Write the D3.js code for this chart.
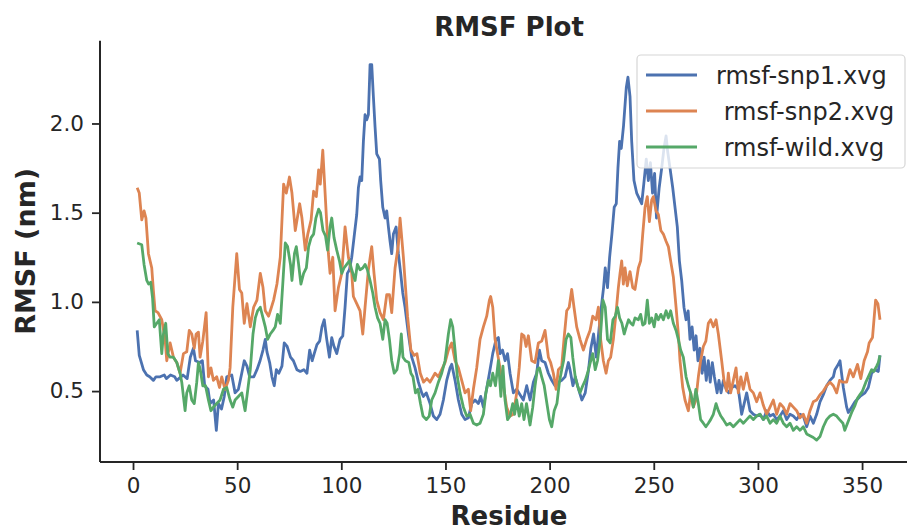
<!DOCTYPE html>
<html>
<head>
<meta charset="utf-8">
<script src="https://cdn.jsdelivr.net/npm/d3@7"></script>
<style>
  body { margin: 0; background: #fff; }
  text { font-family: "DejaVu Sans", sans-serif; fill: #262626; }
</style>
</head>
<body>
<div id="chart"></div>
<script>
// residue / rmsf (nm) pairs
const snp1 = [
  [2,0.84],[3,0.70],[5,0.62],[6.6,0.59],[8,0.58],[9.8,0.56],[11,0.58],[13,0.58],[15,0.59],[16,0.57],
  [18,0.59],[20,0.58],[21,0.56],[23,0.58],[24,0.59],[26,0.57],[27.5,0.69],[29,0.74],[30,0.67],[32,0.66],
  [33.3,0.67],[34.4,0.53],[36,0.51],[37,0.43],[38.7,0.45],[40,0.28],[41,0.43],[42.5,0.40],[43.8,0.47],[45,0.58],
  [47.4,0.59],[49,0.49],[50.6,0.51],[52.2,0.60],[53.4,0.67],[54.7,0.64],[56,0.58],[58,0.58],[59.5,0.62],[61,0.67],
  [62.4,0.73],[63.5,0.79],[64.3,0.72],[65.6,0.66],[66.7,0.58],[67.8,0.53],[68.8,0.62],[70,0.60],[71.5,0.64],[72.6,0.77],
  [74,0.75],[75.6,0.69],[77,0.67],[78.7,0.62],[80.3,0.61],[82,0.62],[83.5,0.60],[84.8,0.73],[86,0.67],[87,0.71],
  [88.3,0.76],[89.6,0.78],[90.7,0.86],[91.8,0.90],[93,0.79],[94.3,0.69],[95.4,0.80],[96.5,0.75],[97.8,0.71],[99.4,0.79],
  [100.7,0.81],[101.8,0.97],[102.9,1.16],[103.9,1.18],[105,1.25],[106.1,1.36],[107.4,1.49],[108.2,1.64],[109,1.70],[109.8,1.68],
  [110.6,1.90],[111.4,2.05],[112.2,2.02],[113,2.05],[113.8,2.33],[114.6,2.33],[115.4,2.15],[116.2,1.98],[117,1.83],[118.3,1.80],
  [118.9,1.68],[119.9,1.53],[121,1.47],[121.8,1.51],[122.6,1.42],[123.4,1.34],[124.2,1.27],[125,1.38],[126.3,1.42],[127.4,1.27],
  [128.5,1.16],[129.5,1.05],[130.6,0.97],[132.2,0.82],[133.8,0.69],[135.4,0.63],[137,0.55],[138.6,0.49],[139.4,0.47],[140.8,0.49],
  [142.6,0.43],[144.2,0.36],[145.8,0.34],[147.4,0.37],[149,0.45],[150.6,0.56],[152.2,0.63],[153,0.65],[154.6,0.56],[156.2,0.45],
  [157.8,0.37],[159.4,0.34],[161,0.35],[162.6,0.43],[164.2,0.45],[165.8,0.43],[166.9,0.47],[168.2,0.41],[169.4,0.49],[171.1,0.60],
  [172.7,0.71],[174.3,0.79],[175.4,0.80],[176.2,0.71],[177.4,0.73],[178.6,0.67],[179.8,0.71],[181,0.60],[182.6,0.49],[184.2,0.51],
  [185.8,0.48],[187.4,0.45],[189,0.53],[190.6,0.45],[192.2,0.55],[193.8,0.60],[195.1,0.73],[196.2,0.67],[197.8,0.66],[199.4,0.60],
  [201,0.56],[202.6,0.53],[204.2,0.55],[205.8,0.56],[207.4,0.58],[209,0.66],[209.8,0.62],[211.2,0.53],[212.3,0.58],[213.9,0.51],
  [215.5,0.45],[217.1,0.49],[218.7,0.62],[219.8,0.74],[221.1,0.82],[222.4,0.69],[223.5,0.82],[224.6,0.95],[225.9,1.08],[226.7,1.19],
  [227.8,1.08],[228.8,1.25],[229.9,1.38],[231,1.53],[232,1.55],[232.8,1.75],[233.6,1.90],[234.4,1.86],[235.5,1.99],[236.8,2.20],
  [237.6,2.26],[238.6,2.15],[239.4,1.90],[240.5,1.68],[241.8,1.61],[243.4,1.57],[244.2,1.55],[245.2,1.66],[246.4,1.80],[247.4,1.68],
  [248.4,1.78],[249.4,1.61],[250.4,1.72],[251.3,1.47],[252.6,1.64],[253.8,1.75],[254.9,1.86],[255.9,1.93],[256.7,1.84],[257.8,1.75],
  [259.1,1.64],[260.2,1.53],[261.3,1.42],[262.3,1.23],[263.4,1.12],[264.5,0.97],[265.5,0.90],[266.5,0.95],[267.4,0.79],[268.4,0.86],
  [269.4,0.73],[270.3,0.81],[271.2,0.67],[272.2,0.74],[273.2,0.60],[274.2,0.69],[275.2,0.56],[276.2,0.67],[277.1,0.55],[278.1,0.66],
  [279.1,0.58],[280.4,0.49],[281.3,0.56],[282.3,0.49],[283.4,0.56],[284.8,0.51],[286,0.49],[287.5,0.52],[289,0.53],[290.6,0.51],
  [292.2,0.37],[293.4,0.43],[294.6,0.49],[296.2,0.39],[297.8,0.37],[299.4,0.36],[301,0.37],[302.6,0.34],[304.2,0.39],[305.8,0.36],
  [307.4,0.37],[309,0.34],[310.6,0.36],[312.2,0.39],[313.8,0.34],[315.4,0.37],[317,0.36],[318.6,0.34],[320.2,0.37],[321.8,0.36],
  [323.4,0.30],[325,0.36],[326.6,0.32],[328.2,0.37],[329.8,0.44],[331.4,0.48],[333,0.53],[334.6,0.56],[336.2,0.58],[337,0.62],
  [338.6,0.65],[339.4,0.67],[341,0.52],[342.6,0.41],[343.4,0.38],[345,0.41],[346.6,0.44],[349,0.47],[351.4,0.49],[353,0.52],
  [354.6,0.60],[356.2,0.62],[357.8,0.61],[358.6,0.70]
];

const snp2 = [
  [2,1.64],[3,1.61],[4.2,1.46],[5.3,1.51],[6.2,1.47],[7.4,1.27],[9,1.19],[9.8,1.06],[10.6,0.95],[12,0.94],
  [13.8,0.90],[15.4,0.79],[16.2,0.67],[17.8,0.77],[19.4,0.69],[21,0.66],[22.6,0.60],[24.2,0.71],[25.8,0.72],[27,0.84],
  [28.2,0.82],[29.4,0.74],[30.3,0.82],[31.4,0.83],[32.2,0.69],[33.5,0.78],[35.1,0.94],[36.2,0.58],[37.4,0.63],[38.6,0.56],
  [40.2,0.58],[41.5,0.52],[42.6,0.58],[44.2,0.51],[45.8,0.56],[46.6,0.63],[47.9,0.97],[49.8,1.27],[51.1,1.07],[52.2,1.05],
  [53.4,0.88],[54.7,0.99],[56.3,0.86],[57.9,0.97],[59.5,1.01],[61.1,1.16],[62.4,1.08],[63.5,0.95],[65.1,0.92],[66.2,0.96],
  [67.5,1.01],[69.1,1.10],[70.7,1.25],[72.3,1.66],[73.6,1.61],[75.1,1.70],[76.3,1.61],[77.9,1.40],[80,1.55],[81.1,1.47],
  [82.7,1.29],[83.9,1.38],[85.5,1.46],[86.7,1.62],[88,1.59],[89.1,1.74],[89.9,1.66],[91.1,1.85],[92.4,1.57],[93.8,1.27],
  [94.6,1.16],[95.9,1.25],[97,0.95],[98.6,1.08],[100.2,1.16],[101.8,1.42],[103.4,1.25],[105,1.16],[105.8,1.03],[107.4,0.99],
  [109,0.95],[110.3,0.82],[111.4,0.97],[113,1.18],[114.6,1.31],[115.7,1.16],[117,1.01],[118.6,0.94],[120.2,0.90],[121.8,1.04],
  [123.1,1.04],[124.2,0.94],[125.8,1.19],[127.4,1.32],[128.2,1.47],[129.8,1.25],[131.8,0.92],[133.4,0.73],[135,0.70],[136.3,0.71],
  [137.9,0.60],[139.5,0.55],[141.1,0.57],[142.6,0.55],[145,0.60],[146.6,0.58],[148.2,0.62],[149.8,0.66],[151.4,0.73],[153,0.77],
  [154.6,0.67],[156.2,0.63],[157.8,0.56],[159.4,0.49],[161,0.51],[162.1,0.39],[163.4,0.51],[165,0.63],[166.6,0.79],[168.2,0.86],
  [169.8,0.92],[171.1,1.01],[171.7,1.03],[172.7,0.97],[173.8,0.79],[175,0.71],[176.2,0.63],[177.8,0.53],[179.4,0.41],[181,0.36],
  [182.6,0.37],[184.2,0.49],[185.4,0.63],[186.6,0.82],[187.7,0.81],[188.7,0.75],[189.8,0.81],[191.4,0.67],[193,0.66],[194.6,0.77],
  [196.2,0.78],[197.8,0.84],[199.4,0.69],[200.5,0.66],[201.8,0.60],[203.1,0.51],[204.2,0.62],[205.8,0.64],[206.9,0.79],[208.2,0.95],
  [209.4,0.97],[210.6,1.07],[211.7,0.97],[213,0.86],[214.6,0.79],[216.2,0.73],[217.8,0.79],[219.4,0.84],[220.7,0.92],[222.3,0.90],
  [223.4,0.97],[224.5,0.79],[225.8,0.67],[227.1,0.60],[228.2,0.67],[229.3,0.69],[230.6,0.79],[231.9,0.94],[233,1.08],[233.8,1.16],
  [234.6,1.23],[235.4,1.10],[236.2,1.19],[237.3,1.09],[238.6,1.17],[239.9,1.08],[241,1.07],[242.6,1.19],[243.7,1.23],[244.7,1.38],
  [245.8,1.53],[246.9,1.59],[247.9,1.45],[249,1.57],[249.8,1.59],[251.1,1.51],[252.2,1.49],[253.4,1.40],[254.6,1.38],[255.9,1.34],
  [257,1.31],[258.1,1.23],[259.4,1.14],[260.7,0.97],[261.8,0.82],[262.6,0.67],[263.9,0.52],[265,0.45],[266.6,0.39],[267.7,0.49],
  [269,0.41],[270.2,0.45],[271.4,0.58],[272.5,0.67],[273.8,0.75],[275,0.78],[276.2,0.88],[277.3,0.90],[278.6,0.86],[279.9,0.90],
  [281,0.82],[282.6,0.67],[283.7,0.56],[285,0.50],[285.8,0.60],[286.9,0.49],[288.2,0.56],[289.5,0.63],[290.6,0.49],[291.8,0.58],
  [293,0.51],[294.6,0.60],[296.2,0.51],[297.8,0.49],[299.4,0.44],[301,0.49],[302.6,0.42],[304.2,0.37],[305.8,0.41],[307.4,0.45],
  [309,0.37],[310.6,0.43],[312.2,0.41],[313.8,0.37],[315.4,0.43],[317,0.41],[318.6,0.39],[320.2,0.35],[321.8,0.37],[323.4,0.32],
  [325,0.39],[326.6,0.44],[328.2,0.45],[329.8,0.48],[331.4,0.50],[333,0.53],[334.6,0.55],[336.2,0.53],[337.8,0.49],[339.2,0.56],
  [340.8,0.55],[342.6,0.55],[344.2,0.62],[345.8,0.58],[347.8,0.65],[349.4,0.57],[351,0.67],[352.6,0.72],[353.4,0.77],[355,0.80],
  [356.5,1.01],[357.6,0.99],[358.6,0.90]
];

const wild = [
  [2,1.33],[4.2,1.32],[5.3,1.21],[6.6,1.12],[7.5,1.10],[8.5,1.11],[9.4,1.02],[10.2,0.86],[11.4,0.88],[12.6,0.90],
  [13.8,0.71],[14.6,0.82],[15.7,0.88],[16.7,0.71],[17.8,0.69],[19.4,0.69],[21,0.66],[22.6,0.60],[23.4,0.55],[25,0.39],
  [25.8,0.49],[27,0.53],[28.2,0.45],[29.4,0.43],[30.6,0.55],[31.4,0.66],[32.3,0.62],[33.5,0.53],[34.8,0.53],[36.2,0.45],
  [37.4,0.39],[38.6,0.41],[40.2,0.43],[41.8,0.45],[43.4,0.51],[45,0.52],[46.6,0.45],[47.9,0.41],[49,0.45],[50.6,0.47],
  [52.2,0.49],[53.8,0.39],[54.9,0.49],[56.3,0.62],[57.6,0.82],[58.7,0.91],[59.8,0.95],[61.1,0.97],[62.4,0.91],[63.5,0.86],
  [64.6,0.79],[65.9,0.82],[67.2,0.84],[68.3,0.86],[69.4,0.93],[70.7,0.88],[72,1.12],[73.1,1.33],[74.2,1.31],[75.6,1.21],
  [76.3,1.12],[77.5,1.27],[78.4,1.31],[79.5,1.21],[80.6,1.10],[81.9,1.16],[83.2,1.19],[84.3,1.31],[85.5,1.36],[86.7,1.38],
  [87.8,1.47],[89.1,1.52],[90,1.50],[91.2,1.40],[92.4,1.37],[93.4,1.29],[94.6,1.42],[95.4,1.47],[96.5,1.36],[97.8,1.29],
  [99.1,1.23],[100.2,1.16],[101.3,1.19],[102.6,1.21],[103.9,1.23],[105,1.18],[106.6,1.12],[107.7,1.21],[109,1.18],[110.3,1.19],
  [111.4,1.21],[112.5,1.18],[113.8,1.12],[115.1,1.05],[116.2,0.97],[117.4,0.91],[118.6,0.88],[119.9,0.79],[121,0.90],[122,0.88],
  [123.1,0.79],[124.2,0.67],[125.4,0.60],[126.7,0.62],[128,0.71],[128.8,0.82],[129.6,0.69],[130.8,0.67],[132.4,0.66],[133.4,0.60],
  [134.4,0.58],[135.6,0.49],[136.8,0.51],[138,0.43],[139.2,0.36],[140.8,0.34],[142.2,0.36],[143.4,0.45],[145,0.49],[146.6,0.55],
  [148.2,0.60],[149.8,0.67],[151.4,0.82],[152.5,0.90],[153.5,0.86],[154.6,0.73],[155.7,0.58],[157,0.49],[158.6,0.41],[160.2,0.36],
  [161.8,0.37],[163.4,0.32],[165,0.31],[166.6,0.32],[168.2,0.37],[169.4,0.49],[170.6,0.56],[171.6,0.53],[172.7,0.60],[174,0.53],
  [175.4,0.67],[176.6,0.47],[177.6,0.64],[178.6,0.45],[179.8,0.34],[181,0.36],[182.3,0.43],[183.2,0.37],[184.2,0.45],[185.4,0.36],
  [186.6,0.43],[187.7,0.34],[188.9,0.43],[190.6,0.31],[191.9,0.41],[193,0.53],[194.1,0.62],[195.1,0.63],[196.2,0.58],[197.4,0.53],
  [198.7,0.43],[199.9,0.34],[201,0.30],[202.2,0.39],[203.5,0.43],[204.7,0.55],[205.8,0.62],[206.7,0.67],[207.9,0.79],[209,0.82],
  [210.2,0.80],[211.1,0.69],[212.3,0.58],[213.4,0.53],[214.6,0.49],[215.9,0.53],[217.1,0.56],[218.2,0.60],[219.5,0.66],[220.7,0.71],
  [221.9,0.62],[223,0.67],[224.3,0.79],[225.6,1.01],[226.7,0.97],[227.8,0.79],[229.1,0.77],[230.4,0.90],[231.5,0.92],[232.6,0.97],
  [233.6,0.91],[234.7,0.88],[235.8,0.82],[236.8,0.86],[237.9,0.90],[239,0.88],[240,0.87],[241,0.91],[242.6,0.90],[243.7,0.93],
  [244.7,0.87],[245.8,0.88],[246.9,1.01],[247.9,0.88],[249,0.91],[250.2,0.86],[251.1,0.93],[252.2,0.90],[253.4,0.93],[254.6,0.90],
  [255.9,0.95],[257,0.91],[258.1,0.95],[259.4,0.88],[260.7,0.84],[261.8,0.79],[262.9,0.73],[264.2,0.69],[265.5,0.58],[266.6,0.53],
  [267.7,0.49],[269,0.41],[270.2,0.51],[271.4,0.43],[272.5,0.34],[273.8,0.32],[275,0.30],[276.2,0.32],[277.3,0.34],[278.6,0.37],
  [279.9,0.43],[281,0.39],[282.2,0.36],[283.4,0.34],[285,0.31],[286.6,0.32],[288.2,0.30],[289.8,0.32],[291.4,0.34],[293,0.32],
  [294.6,0.34],[296.2,0.36],[297.8,0.34],[299.4,0.36],[301,0.37],[302.6,0.34],[304.2,0.36],[305.8,0.32],[307.4,0.34],[309,0.32],
  [310.6,0.36],[312.2,0.32],[313.8,0.30],[315.4,0.32],[317,0.28],[318.6,0.30],[320.2,0.28],[321.8,0.30],[323.4,0.26],[325,0.25],
  [326.6,0.24],[328.2,0.225],[329.8,0.245],[331.4,0.30],[333,0.34],[334.6,0.36],[336.2,0.37],[337.8,0.36],[339.2,0.34],[340.8,0.32],
  [341.7,0.28],[343,0.32],[345,0.38],[346.6,0.42],[347.8,0.46],[349,0.48],[350.2,0.50],[351.8,0.55],[353,0.58],[354.6,0.62],
  [355.6,0.61],[357,0.64],[357.8,0.66],[358.6,0.70]
];

const seriesNames = ["rmsf-snp1.xvg", " rmsf-snp2.xvg", " rmsf-wild.xvg"];
const seriesColors = ["#4c72b0", "#dd8452", "#55a868"];
const xTicks = [0, 50, 100, 150, 200, 250, 300, 350];
const yTicks = [0.5, 1.0, 1.5, 2.0];

const width = 907, height = 531;
const margin = {top: 40.7, right: -11, bottom: 69, left: 100};

const svg = d3.select("#chart").append("svg")
    .attr("width", width)
    .attr("height", height);

const x = d3.scaleLinear().domain([-15.85, 376.85]).range([margin.left, width - margin.right]);
const y = d3.scaleLinear().domain([0.1025, 2.464]).range([height - margin.bottom, margin.top]);

// axes (seaborn ticks style, despined)
const xAxis = svg.append("g")
    .attr("transform", `translate(0,${height - margin.bottom})`)
    .call(d3.axisBottom(x).tickValues(xTicks).tickSize(8).tickPadding(8).tickFormat(d3.format("d")));
const yAxis = svg.append("g")
    .attr("transform", `translate(${margin.left},0)`)
    .call(d3.axisLeft(y).tickValues(yTicks).tickSize(8).tickPadding(8).tickFormat(d3.format(".1f")));

[xAxis, yAxis].forEach(g => {
  g.select(".domain").attr("stroke", "#262626").attr("stroke-width", 2);
  g.selectAll(".tick line").attr("stroke", "#262626").attr("stroke-width", 1.8);
  g.selectAll(".tick text").style("font-size", "21.5px").attr("fill", "#262626");
});
xAxis.select(".domain").attr("d", `M${margin.left},0H${width + 20}`);
yAxis.select(".domain").attr("d", `M0,${margin.top}V${height - margin.bottom}`);

// lines
const line = d3.line().x(d => x(d[0])).y(d => y(d[1]));
[snp1, snp2, wild].forEach((s, i) => {
  svg.append("path")
    .datum(s)
    .attr("fill", "none")
    .attr("stroke", seriesColors[i])
    .attr("stroke-width", 2.8)
    .attr("stroke-linejoin", "round")
    .attr("d", line);
});

// title and labels
svg.append("text")
    .attr("x", 509).attr("y", 36)
    .attr("text-anchor", "middle")
    .style("font-size", "26px").style("font-weight", "bold")
    .text("RMSF Plot");

svg.append("text")
    .attr("x", 509).attr("y", 525)
    .attr("text-anchor", "middle")
    .style("font-size", "26px").style("font-weight", "bold")
    .text("Residue");

svg.append("text")
    .attr("transform", `translate(35,${(margin.top + height - margin.bottom) / 2}) rotate(-90)`)
    .attr("text-anchor", "middle")
    .style("font-size", "27px").style("font-weight", "bold")
    .text("RMSF (nm)");

// legend
const legend = svg.append("g");
legend.append("rect")
    .attr("x", 637).attr("y", 55)
    .attr("width", 268).attr("height", 113)
    .attr("rx", 4)
    .attr("fill", "#fff").attr("fill-opacity", 0.8)
    .attr("stroke", "#d6d6d6").attr("stroke-width", 1.2);

seriesNames.forEach((name, i) => {
  const ly = 75 + i * 36;
  legend.append("line")
    .attr("x1", 646).attr("x2", 697)
    .attr("y1", ly).attr("y2", ly)
    .attr("stroke", seriesColors[i]).attr("stroke-width", 2.8);
  legend.append("text")
    .attr("x", 716).attr("y", ly).attr("dy", "0.36em")
    .style("font-size", "24px").style("white-space", "pre")
    .text(name);
});
</script>
</body>
</html>
